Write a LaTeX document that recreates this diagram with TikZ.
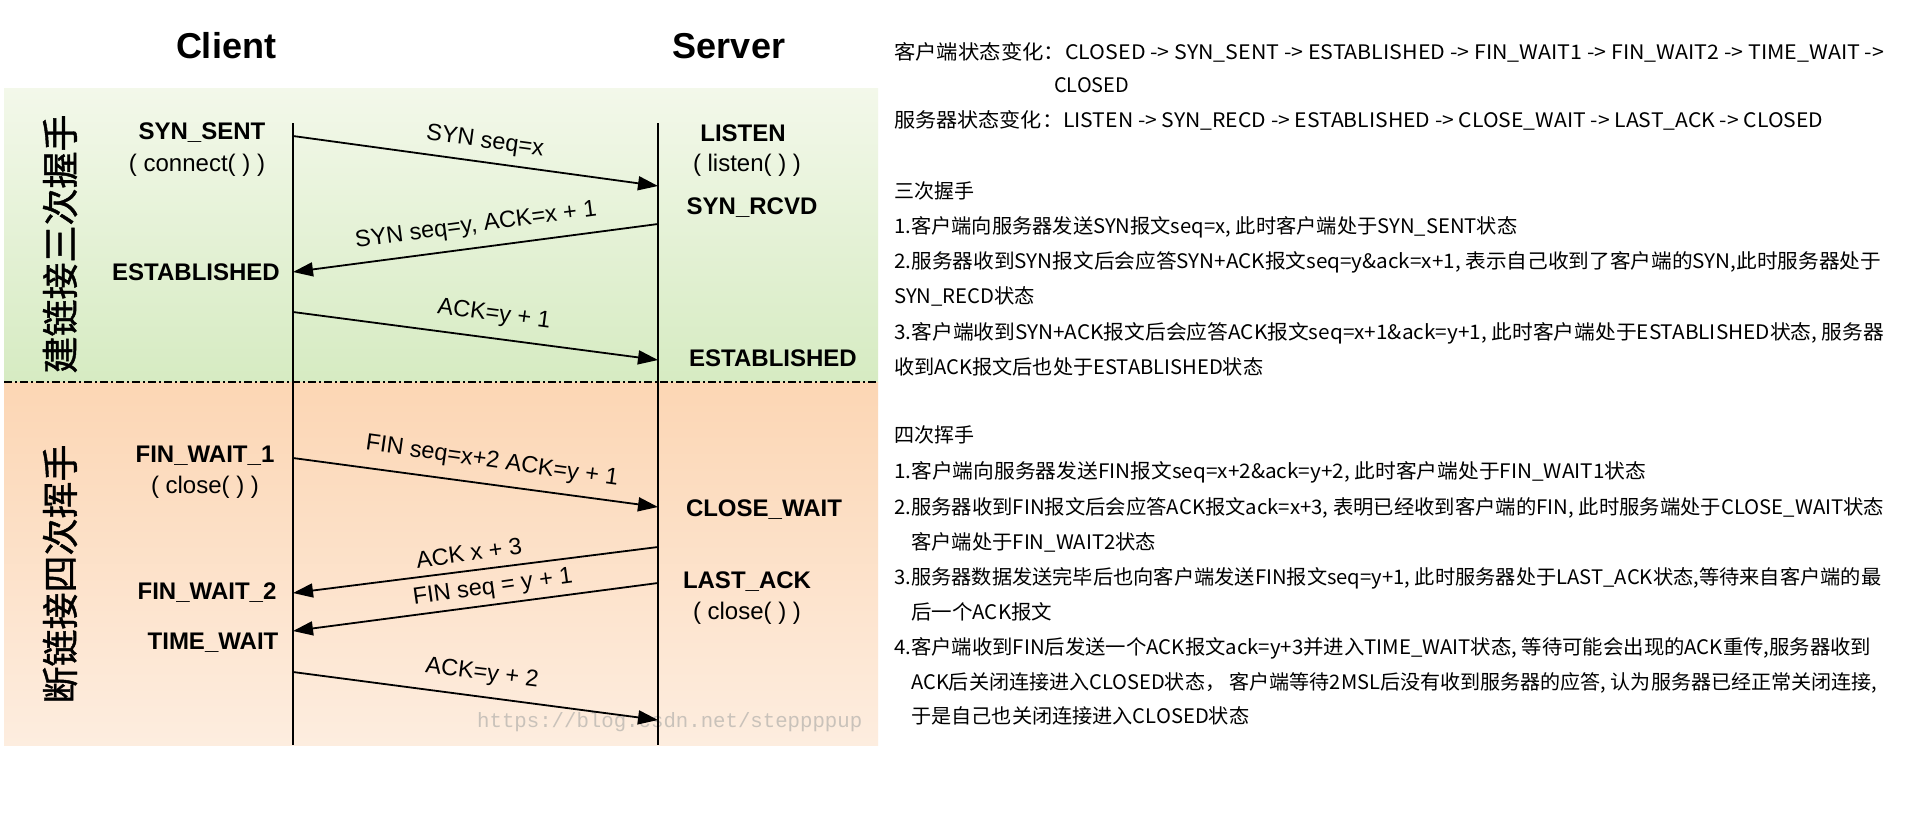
\documentclass[tikz,border=0pt]{standalone}
\usepackage{fontspec}
\usepackage{graphicx}
\setmainfont{Liberation Sans}
\newfontfamily\cjk{Noto Sans CJK SC}
\newfontfamily\cjkside{Noto Sans CJK SC}[FakeBold=1.2]
\newfontfamily\wmfont{Liberation Mono}
\usetikzlibrary{arrows.meta}
\definecolor{greenT}{HTML}{F3F8EA}
\definecolor{greenB}{HTML}{D6EBC2}
\definecolor{orangeT}{HTML}{FCD6B4}
\definecolor{orangeB}{HTML}{FDEDDF}
\definecolor{wmgray}{HTML}{C9C2BA}
\newcommand{\tline}[4]{\node[txt] at (#1,#2) {\resizebox{#3pt}{\height}{#4}};}
\begin{document}
\begin{tikzpicture}[x=1pt,y=-1pt,
  title/.style={font=\bfseries\fontsize{36}{36}\selectfont, inner sep=0},
  state/.style={font=\bfseries\fontsize{24}{24}\selectfont, inner sep=0},
  call/.style={font=\fontsize{24}{24}\selectfont, inner sep=0},
  lbl/.style={font=\fontsize{23.5}{23.5}\selectfont, inner sep=0},
  msg/.style={line width=1.8pt, -{Triangle[length=20pt,width=14pt]}},
  life/.style={line width=1.5pt},
  side/.style={font=\cjkside\fontsize{37}{37}\selectfont, rotate=90, inner sep=0},
  txt/.style={font=\cjk\fontsize{20}{20}\selectfont, anchor=base west, inner sep=0},
]
\useasboundingbox (0,0) rectangle (1914,817);
\fill[white] (0,0) rectangle (1914,817);
% bands
\shade[top color=greenT, bottom color=greenB] (4,88) rectangle (878,382);
\shade[top color=orangeT, bottom color=orangeB] (4,382) rectangle (878,745);
\draw[line width=1.5pt, dash pattern=on 8pt off 3pt on 2pt off 3pt] (4,382) -- (878,382);
% titles
\node[title] (client) at (226,46) {Client};
\node[title] (server) at (729,46) {Server};
% side labels
\node[side] (est) at (60,244) {建链接三次握手};
\node[side] (fin) at (60,574) {断链接四次挥手};
% watermark
\node[font=\wmfont\fontsize{20.7}{20.7}\selectfont, text=wmgray, anchor=west, inner sep=0] (wm) at (477,722) {https://blog.csdn.net/steppppup};
% lifelines
\coordinate (ctop) at (293,123); \coordinate (cbot) at (293,745);
\coordinate (stop) at (658,123); \coordinate (sbot) at (658,745);
\draw[life] (ctop) -- (cbot);
\draw[life] (stop) -- (sbot);
% states
\node[state] (synsent) at (202,133) {SYN\_SENT};
\node[call] (connect) at (197,165) {( connect( ) )};
\node[state] (cest) at (196,272) {ESTABLISHED};
\node[state] (listen) at (743,133) {LISTEN};
\node[call] (listenc) at (747,165) {( listen( ) )};
\node[state] (synrcvd) at (752,208) {SYN\_RCVD};
\node[state] (sest) at (773,358) {ESTABLISHED};
\node[state] (fw1) at (205,456) {FIN\_WAIT\_1};
\node[call] (close1) at (205,487) {( close( ) )};
\node[state] (fw2) at (207,593) {FIN\_WAIT\_2};
\node[state] (tw) at (213,643) {TIME\_WAIT};
\node[state] (cw) at (764,510) {CLOSE\_WAIT};
\node[state] (la) at (747,582) {LAST\_ACK};
\node[call] (close2) at (747,613) {( close( ) )};
% message endpoints
\coordinate (c1) at (293,136); \coordinate (s1) at (658,186);
\coordinate (s2) at (658,224); \coordinate (c2) at (293,272);
\coordinate (c3) at (293,312); \coordinate (s3) at (658,360);
\coordinate (c4) at (293,458); \coordinate (s4) at (658,507);
\coordinate (s5) at (658,547); \coordinate (c5) at (293,593);
\coordinate (s6) at (658,583); \coordinate (c6) at (293,631);
\coordinate (c7) at (293,672); \coordinate (s7) at (658,720);
\draw[msg] (c1) -- (s1);
\draw[msg] (s2) -- (c2);
\draw[msg] (c3) -- (s3);
\draw[msg] (c4) -- (s4);
\draw[msg] (s5) -- (c5);
\draw[msg] (s6) -- (c6);
\draw[msg] (c7) -- (s7);
\node[lbl, rotate=-7.7] (l1) at (485,142) {SYN seq=x};
\node[lbl, rotate=7.5] (l2) at (476,226) {SYN seq=y, ACK=x + 1};
\node[lbl, rotate=-7.5] (l3) at (494,315) {ACK=y + 1};
\node[lbl, rotate=-8] (l4) at (492,462) {FIN seq=x+2 ACK=y + 1};
\node[lbl, rotate=8] (l5) at (469,553) {ACK x + 3};
\node[lbl, rotate=8] (l6) at (493,588) {FIN seq = y + 1};
\node[lbl, rotate=-7] (l7) at (482,674) {ACK=y + 2};
% right-hand text
\tline{894}{59}{990}{客户端状态变化：CLOSED -> SYN\_SENT -> ESTABLISHED -> FIN\_WAIT1 -> FIN\_WAIT2 -> TIME\_WAIT ->}
\tline{1054}{92}{75}{CLOSED}
\tline{894}{127}{929}{服务器状态变化：LISTEN -> SYN\_RECD -> ESTABLISHED -> CLOSE\_WAIT -> LAST\_ACK -> CLOSED}
\tline{894}{198}{80}{三次握手}
\tline{894}{233}{623}{1.客户端向服务器发送SYN报文seq=x, 此时客户端处于SYN\_SENT状态}
\tline{894}{268}{987}{2.服务器收到SYN报文后会应答SYN+ACK报文seq=y\&ack=x+1, 表示自己收到了客户端的SYN,此时服务器处于}
\tline{894}{303}{141}{SYN\_RECD状态}
\tline{894}{339}{990}{3.客户端收到SYN+ACK报文后会应答ACK报文seq=x+1\&ack=y+1, 此时客户端处于ESTABLISHED状态, 服务器}
\tline{894}{374}{369}{收到ACK报文后也处于ESTABLISHED状态}
\tline{894}{442}{80}{四次挥手}
\tline{894}{478}{752}{1.客户端向服务器发送FIN报文seq=x+2\&ack=y+2, 此时客户端处于FIN\_WAIT1状态}
\tline{894}{514}{990}{2.服务器收到FIN报文后会应答ACK报文ack=x+3, 表明已经收到客户端的FIN, 此时服务端处于CLOSE\_WAIT状态}
\tline{911}{549}{245}{客户端处于FIN\_WAIT2状态}
\tline{894}{584}{987}{3.服务器数据发送完毕后也向客户端发送FIN报文seq=y+1, 此时服务器处于LAST\_ACK状态,等待来自客户端的最}
\tline{911}{619}{141}{后一个ACK报文}
\tline{894}{654}{977}{4.客户端收到FIN后发送一个ACK报文ack=y+3并进入TIME\_WAIT状态, 等待可能会出现的ACK重传,服务器收到}
\tline{911}{689}{966}{ACK后关闭连接进入CLOSED状态， 客户端等待2MSL后没有收到服务器的应答, 认为服务器已经正常关闭连接,}
\tline{911}{723}{338}{于是自己也关闭连接进入CLOSED状态}
\end{tikzpicture}
\end{document}
